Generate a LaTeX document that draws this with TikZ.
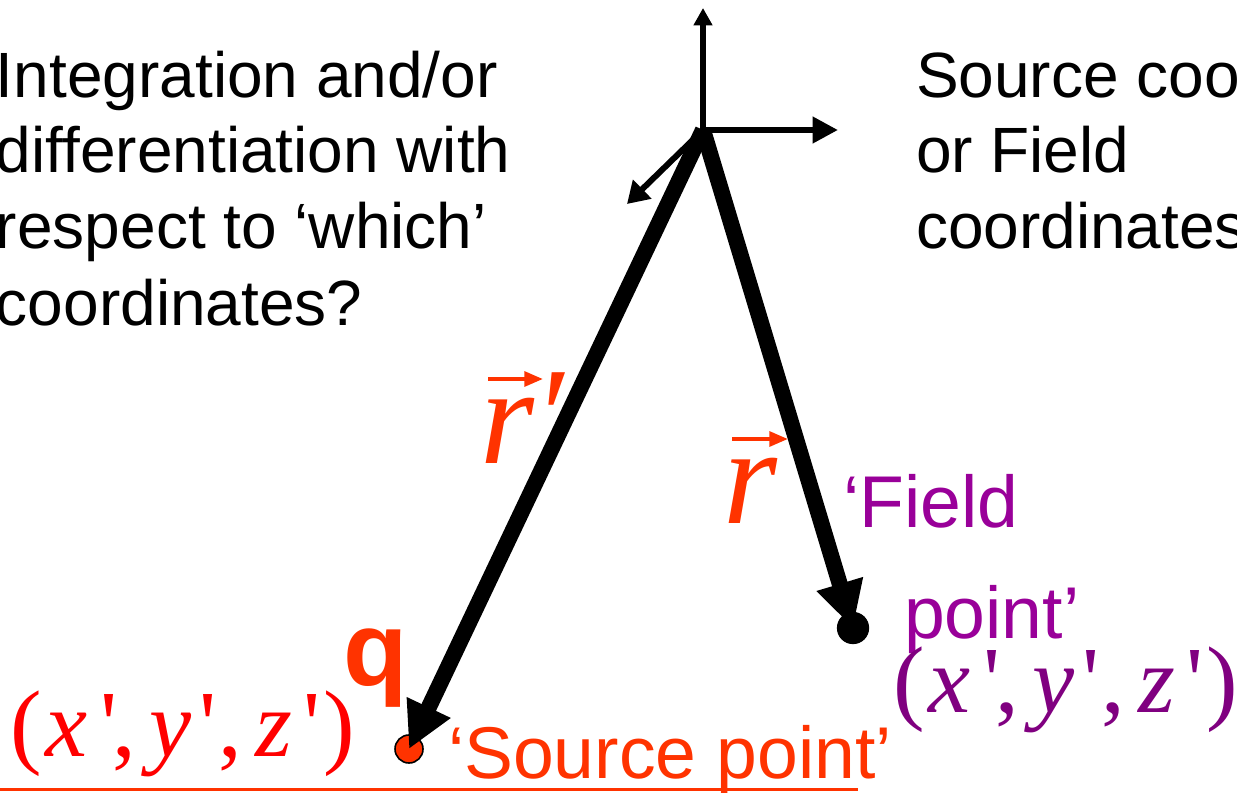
\documentclass[tikz,border=0pt]{standalone}
\usepackage{fontspec}
\setmainfont{Liberation Sans}
\newfontfamily\serif[Ligatures=TeXOff]{Liberation Serif}
\usetikzlibrary{arrows.meta}
\definecolor{orred}{HTML}{FF3300}
\definecolor{fpurple}{HTML}{990099}
\definecolor{cpurple}{HTML}{800080}
\definecolor{pred}{HTML}{FF0000}
\newcommand\xyzcoords{{\serif\fontsize{71}{71}\selectfont (\kern3pt\textit{x}\kern10pt'\kern-4pt,\kern10pt\textit{y}\kern6pt'\kern1pt,\kern10pt\textit{z}\kern9pt'\kern2pt)}}
\begin{document}
\begin{tikzpicture}[x=0.75pt,y=-0.75pt,
  txt/.style={anchor=base west,inner sep=0pt,outer sep=0pt},
  bigtext/.style={txt,font=\fontsize{48}{57}\selectfont},
  labeltext/.style={txt,font=\fontsize{55}{60}\selectfont},
  veclabel/.style={txt,text=orred,font=\serif\itshape\fontsize{104}{104}\selectfont},
  axis/.style={line width=4.5pt},
  bigvec/.style={line width=12pt,-{Triangle[length=34.5pt,width=34pt]}},
  smallvec/.style={line width=3pt,orred,-{Triangle[length=14pt,width=11pt]}},
  dot/.style={circle,inner sep=0pt,minimum size=#1,draw=black,line width=1.2pt}]
\useasboundingbox (0,0) rectangle (1237,792);
\clip (0,0) rectangle (1237,792);
% left text
\node[bigtext] (t1) at (-4,97) {Integration and/or};
\node[bigtext] (t2) at (-4,172) {differentiation with};
\node[bigtext] (t3) at (-4,248) {respect to ‘which’};
\node[bigtext] (t4) at (-4,325) {coordinates?};
% right text
\node[bigtext] (s1) at (916,97) {Source coordinates};
\node[bigtext] (s2) at (916,172) {or Field};
\node[bigtext] (s3) at (916,248) {coordinates};
% axes
\coordinate (O) at (703,130);
\coordinate (zt) at (703,8);
\coordinate (xt) at (838,130);
\coordinate (yt) at (627,204);
\draw[axis,-{Triangle[length=13pt,width=13.5pt]}] (O) -- (zt);
\draw[axis,-{Triangle[length=19pt,width=19pt]}] (O) -- (xt);
\draw[axis,-{Triangle[length=16pt,width=19pt]}] (O) -- (yt);
% source point
\node[dot=21pt,fill=orred] (src) at (409,749) {};
\draw[bigvec] (O) -- (src.center);
% field point
\coordinate (fldc) at (853,628);
\draw[bigvec] (O) -- (fldc);
\node[dot=23pt,fill=black] (fld) at (fldc) {};
% vector labels
\node[veclabel] (rp) at (480,463) {r′};
\coordinate (rpa) at (488,379);
\coordinate (rpb) at (543,379);
\draw[smallvec] (rpa) -- (rpb);
\node[veclabel] (r) at (723,523) {r};
\coordinate (ra) at (732,439);
\coordinate (rb) at (788,439);
\draw[smallvec] (ra) -- (rb);
% labels
\node[txt,text=orred,font=\bfseries\fontsize{79}{79}\selectfont] (q) at (343,685) {q};
\node[labeltext,text=orred] (srclab) at (448,778) {‘Source point’};
\coordinate (ul1) at (0,789);
\coordinate (ul2) at (858,789);
\draw[orred,line width=2.25pt] (ul1) -- (ul2);
\node[labeltext,text=fpurple] (fl1) at (843,527) {‘Field};
\node[labeltext,text=fpurple] (fl2) at (904,638) {point’};
\node[txt,text=cpurple] (fcoord) at (893,712) {\xyzcoords};
\node[txt,text=pred] (scoord) at (10,756) {\xyzcoords};
\end{tikzpicture}
\end{document}
